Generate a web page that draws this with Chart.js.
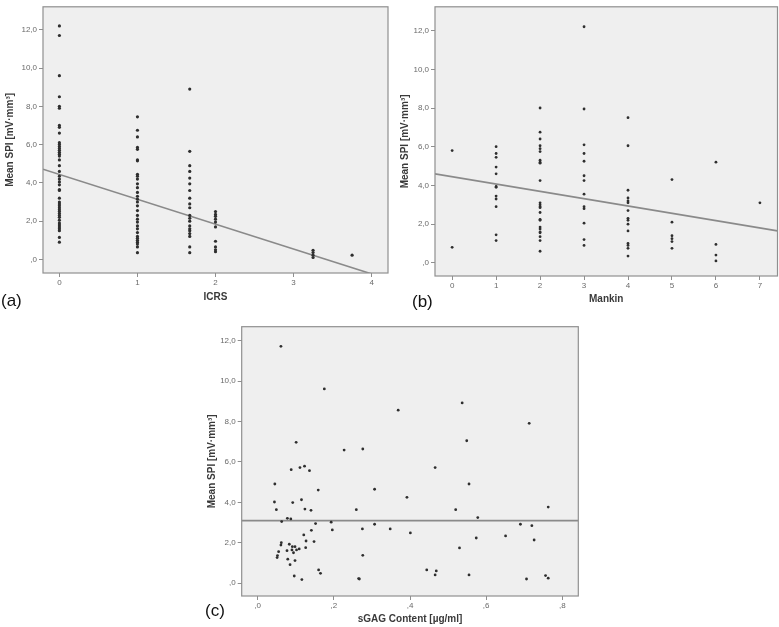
<!DOCTYPE html>
<html>
<head>
<meta charset="utf-8">
<script src="https://cdn.jsdelivr.net/npm/chart.js@4/dist/chart.umd.min.js"></script>
<style>
  html, body { margin: 0; padding: 0; background: #ffffff; }
  #wrap { position: relative; width: 779px; height: 627px; overflow: hidden; background: #fff; }
  canvas { position: absolute; }
  .lab { position: absolute; font-family: "Liberation Sans", Arial, sans-serif; font-size: 17px; color: #111; line-height: 1; }
</style>
</head>
<body>
<div id="wrap">
  <canvas id="ca" width="390" height="310" style="left:0px;top:0px;"></canvas>
  <canvas id="cb" width="389" height="310" style="left:390px;top:0px;"></canvas>
  <canvas id="cc" width="390" height="327" style="left:195px;top:300px;"></canvas>
  <div class="lab" style="left:1px;top:292px;">(a)</div>
  <div class="lab" style="left:412px;top:293px;">(b)</div>
  <div class="lab" style="left:205px;top:602px;">(c)</div>
</div>
<script>
// ---------- DATA ----------
// Panel (a): Mean SPI by ICRS grade
const icrsLevels = [0, 1, 1.67, 2, 3.25, 3.75];
const spiIcrs0 = [12.2, 11.7, 9.6, 8.5, 8.0, 7.9, 7.0, 6.9, 6.6, 6.1, 6.0, 5.9, 5.8, 5.7, 5.6, 5.5, 5.4, 5.2, 4.9, 4.6, 4.35, 4.2, 4.05, 3.9, 3.65, 3.6, 3.2, 3.0, 2.9, 2.8, 2.7, 2.6, 2.5, 2.4, 2.3, 2.2, 2.05, 1.9, 1.8, 1.7, 1.6, 1.5, 1.15, 0.9];
const spiIcrs1 = [7.45, 6.75, 6.4, 5.85, 5.75, 5.2, 5.15, 4.45, 4.35, 4.2, 3.95, 3.75, 3.5, 3.3, 3.15, 3.0, 2.8, 2.55, 2.3, 2.1, 1.95, 1.75, 1.6, 1.4, 1.2, 1.1, 1.0, 0.9, 0.8, 0.65, 0.35];
const spiIcrs167 = [8.9, 5.65, 4.9, 4.6, 4.25, 3.95, 3.6, 3.2, 2.9, 2.7, 2.3, 2.15, 2.0, 1.75, 1.6, 1.5, 1.35, 1.2, 0.65, 0.35];
const spiIcrs2 = [2.5, 2.35, 2.25, 2.1, 1.95, 1.7, 0.95, 0.65, 0.5, 0.4];
const spiIcrs325 = [0.48, 0.36, 0.22, 0.1];
const spiIcrs375 = [0.22];
const fitIcrsX = [-0.21, 4.21];
const fitIcrsY = [4.71, -1.03];

// Panel (b): Mean SPI by Mankin score
const mankinLevels = [0, 1, 2, 3, 4, 5, 6, 7];
const spiMankin0 = [5.8, 0.8];
const spiMankin1 = [6.0, 5.65, 5.45, 4.95, 4.6, 3.95, 3.9, 3.45, 3.3, 2.9, 1.45, 1.15];
const spiMankin2 = [8.0, 6.75, 6.4, 6.05, 5.9, 5.75, 5.3, 5.2, 5.15, 4.25, 3.1, 3.0, 2.9, 2.85, 2.6, 2.25, 2.2, 1.85, 1.75, 1.6, 1.55, 1.35, 1.15, 0.6];
const spiMankin3 = [12.2, 7.95, 6.1, 5.65, 5.25, 4.5, 4.25, 3.55, 2.9, 2.8, 2.05, 1.2, 0.9];
const spiMankin4 = [7.5, 6.05, 3.75, 3.35, 3.2, 3.1, 2.7, 2.3, 2.2, 2.0, 1.65, 1.0, 0.9, 0.75, 0.35];
const spiMankin5 = [4.3, 2.1, 1.4, 1.25, 1.1, 0.75];
const spiMankin6 = [5.2, 0.95, 0.4, 0.1];
const spiMankin7 = [3.1];
const fitMankinX = [-0.39, 7.40];
const fitMankinY = [4.6, 1.65];

// Panel (c): Mean SPI vs sGAG content
const sgagX = [0.061, 0.175, 0.101, 0.227, 0.088, 0.111, 0.123, 0.136, 0.045, 0.159, 0.044, 0.092, 0.115, 0.049, 0.124, 0.140, 0.078, 0.087, 0.063, 0.152, 0.193, 0.196, 0.141, 0.121, 0.127, 0.148, 0.126, 0.062, 0.061, 0.083, 0.091, 0.098, 0.090, 0.102, 0.109, 0.077, 0.094, 0.055, 0.052, 0.051, 0.079, 0.098, 0.085, 0.160, 0.165, 0.096, 0.116,
  0.276, 0.369, 0.537, 0.713, 0.549, 0.466, 0.555, 0.307, 0.392, 0.259, 0.520, 0.763, 0.578, 0.307, 0.690, 0.720, 0.275, 0.348, 0.401, 0.574, 0.651, 0.726, 0.530, 0.276, 0.444, 0.469, 0.466, 0.555, 0.265, 0.267, 0.706, 0.756, 0.763];
const spiSgag = [11.72, 9.61, 6.97, 6.59, 5.62, 5.72, 5.79, 5.57, 4.91, 4.61, 4.02, 3.99, 4.13, 3.64, 3.67, 3.61, 3.21, 3.18, 3.05, 2.95, 3.02, 2.64, 2.62, 2.39, 2.09, 2.06, 1.76, 2.01, 1.89, 1.93, 1.81, 1.81, 1.65, 1.65, 1.70, 1.61, 1.51, 1.56, 1.37, 1.27, 1.19, 1.12, 0.92, 0.66, 0.49, 0.36, 0.18,
  6.64, 8.56, 8.92, 7.91, 7.05, 5.72, 4.91, 4.65, 4.25, 3.64, 3.64, 3.77, 3.25, 2.92, 2.92, 2.85, 2.69, 2.69, 2.49, 2.24, 2.34, 2.14, 1.75, 1.38, 0.66, 0.61, 0.41, 0.41, 0.23, 0.21, 0.21, 0.38, 0.25];
const fitSgagX = [-0.042, 0.842];
const fitSgagY = [3.1, 3.1];

// Tick values and labels
const spiTicks = [0, 2, 4, 6, 8, 10, 12];
const spiTickLabels = [",0", "2,0", "4,0", "6,0", "8,0", "10,0", "12,0"];
const icrsTicks = [0, 1, 2, 3, 4];
const icrsTickLabels = ["0", "1", "2", "3", "4"];
const mankinTicks = [0, 1, 2, 3, 4, 5, 6, 7];
const mankinTickLabels = ["0", "1", "2", "3", "4", "5", "6", "7"];
const sgagTicks = [0, 0.2, 0.4, 0.6, 0.8];
const sgagTickLabels = [",0", ",2", ",4", ",6", ",8"];

// ---------- HELPERS ----------
function columnPoints(levels, columns) {
  const pts = [];
  levels.forEach((lv, i) => columns[i].forEach(v => pts.push({ x: lv, y: v })));
  return pts;
}
function pairPoints(xs, ys) { return xs.map((x, i) => ({ x: x, y: ys[i] })); }

const framePlugin = {
  id: 'frame',
  beforeDraw(chart) {
    const a = chart.chartArea, ctx = chart.ctx;
    ctx.save();
    ctx.fillStyle = '#efefef';
    ctx.fillRect(a.left, a.top, a.right - a.left, a.bottom - a.top);
    ctx.restore();
  },
  afterDraw(chart) {
    const a = chart.chartArea, ctx = chart.ctx;
    ctx.save();
    ctx.strokeStyle = '#8f8f8f';
    ctx.lineWidth = 1.2;
    ctx.strokeRect(a.left, a.top, a.right - a.left, a.bottom - a.top);
    ctx.restore();
  }
};

const FONT = '"Liberation Sans", Arial, sans-serif';

function makeChart(id, points, fitX, fitY, g) {
  const ctx = document.getElementById(id);
  return new Chart(ctx, {
    type: 'scatter',
    data: {
      datasets: [
        {
          data: points,
          pointRadius: g.pr,
          pointBackgroundColor: '#2e2e2e',
          pointBorderWidth: 0,
          pointHoverRadius: 0
        },
        {
          type: 'line',
          data: pairPoints(fitX, fitY),
          showLine: true,
          borderColor: '#8a8a8a',
          borderWidth: 1.6,
          pointRadius: 0,
          fill: false
        }
      ]
    },
    options: {
      responsive: false,
      animation: false,
      devicePixelRatio: 1,
      layout: { padding: { top: g.padTop, right: g.padRight, left: 0, bottom: 0 } },
      plugins: { legend: { display: false }, tooltip: { enabled: false } },
      scales: {
        x: {
          type: 'linear',
          min: g.xmin, max: g.xmax,
          afterBuildTicks: s => { s.ticks = g.xTicks.map(v => ({ value: v })); },
          afterFit: s => { s.height = g.xh; },
          ticks: {
            callback: (v) => { const i = g.xTicks.findIndex(t => Math.abs(t - v) < 1e-9); return i >= 0 ? g.xLabels[i] : ''; },
            font: { family: FONT, size: 8 }, color: '#6a6a6a', padding: 1, maxRotation: 0, autoSkip: false
          },
          grid: { drawOnChartArea: false, drawTicks: true, tickLength: 4, color: '#8f8f8f' },
          border: { display: false },
          title: { display: true, text: g.xTitle, font: { family: FONT, size: 10, weight: 'bold' }, color: '#3a3a3a', padding: { top: 0, bottom: g.xtPad } }
        },
        y: {
          type: 'linear',
          min: g.ymin, max: g.ymax,
          afterBuildTicks: s => { s.ticks = spiTicks.map(v => ({ value: v })); },
          afterFit: s => { s.width = g.yw; },
          ticks: {
            callback: (v) => { const i = spiTicks.indexOf(v); return i >= 0 ? spiTickLabels[i] : ''; },
            font: { family: FONT, size: 8 }, color: '#6a6a6a', padding: 2, autoSkip: false
          },
          grid: { drawOnChartArea: false, drawTicks: true, tickLength: 4, color: '#8f8f8f' },
          border: { display: false },
          title: { display: true, text: 'Mean SPI [mV·mm³]', font: { family: FONT, size: 10, weight: 'bold' }, color: '#3a3a3a', padding: { top: g.ytPad, bottom: 0 } }
        }
      }
    },
    plugins: [framePlugin]
  });
}

makeChart('ca',
  columnPoints(icrsLevels, [spiIcrs0, spiIcrs1, spiIcrs167, spiIcrs2, spiIcrs325, spiIcrs375]),
  fitIcrsX, fitIcrsY,
  { xmin: -0.21, xmax: 4.21, ymin: -0.71, ymax: 13.2, xTicks: icrsTicks, xLabels: icrsTickLabels,
    xTitle: 'ICRS', padTop: 3, padRight: 2, yw: 43, xh: 37, xtPad: 7, ytPad: 4, pr: 1.6 });

makeChart('cb',
  columnPoints(mankinLevels, [spiMankin0, spiMankin1, spiMankin2, spiMankin3, spiMankin4, spiMankin5, spiMankin6, spiMankin7]),
  fitMankinX, fitMankinY,
  { xmin: -0.39, xmax: 7.40, ymin: -0.68, ymax: 13.23, xTicks: mankinTicks, xLabels: mankinTickLabels,
    xTitle: 'Mankin', padTop: 3, padRight: 1.5, yw: 45, xh: 34, xtPad: 5, ytPad: 9, pr: 1.4 });

makeChart('cc',
  pairPoints(sgagX, spiSgag),
  fitSgagX, fitSgagY,
  { xmin: -0.042, xmax: 0.842, ymin: -0.63, ymax: 12.69, xTicks: sgagTicks, xLabels: sgagTickLabels,
    xTitle: 'sGAG Content [µg/ml]', padTop: 26.7, padRight: 6.7, yw: 46.7, xh: 31, xtPad: 2, ytPad: 11, pr: 1.4 });
</script>
</body>
</html>
